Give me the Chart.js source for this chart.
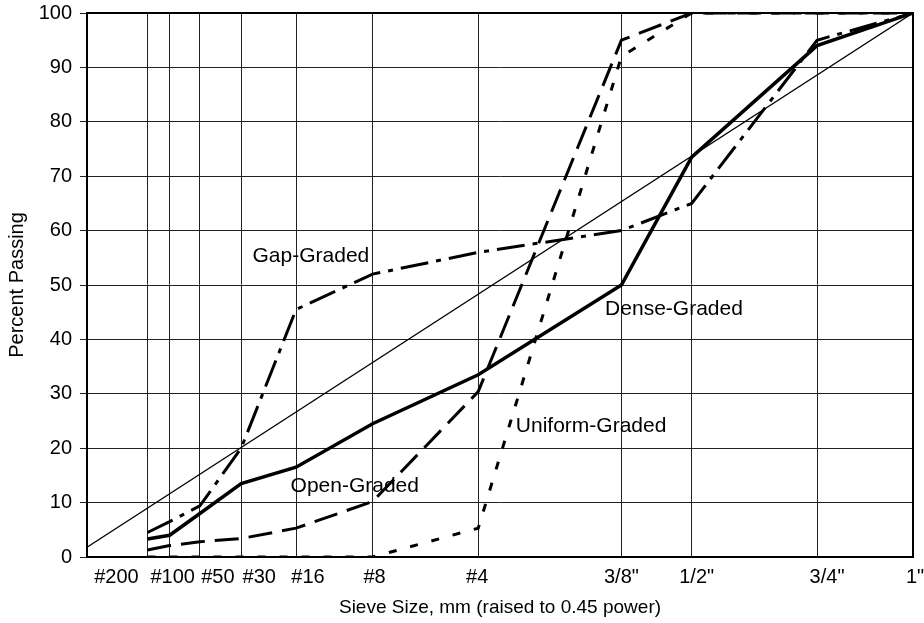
<!DOCTYPE html>
<html>
<head>
<meta charset="utf-8">
<script src="https://cdn.jsdelivr.net/npm/chart.js@4/dist/chart.umd.min.js"></script>
<style>
  html, body { margin: 0; padding: 0; background: #fff; }
  #wrap { width: 924px; height: 623px; }
</style>
</head>
<body>
<div id="wrap"><canvas id="gradationChart" width="924" height="623"></canvas></div>
<script>
// Seulakoot ja niiden nimet
const sieveLabels = ["#200", "#100", "#50", "#30", "#16", "#8", "#4", '3/8"', '1/2"', '3/4"', '1"'];
const sieveSizesMm = [0.075, 0.15, 0.3, 0.6, 1.18, 2.36, 4.75, 9.5, 12.5, 19, 25];

// Läpäisyprosentit (luettu kuvasta)
const denseGraded = [3.3, 4, 8, 13.5, 16.5, 24.5, 33.5, 50, 73.5, 94, 100];
const gapGraded = [4.5, 6.5, 9.4, 20, 45.5, 52, 56, 60, 65, 95, 100];
const openGraded = [1.3, 2.1, 2.8, 3.4, 5.3, 10.2, 30.4, 95, 100, 100, 100];
const uniformGraded = [0, 0, 0, 0, 0, 0, 5.3, 92, 100, 100, 100];

// Maksimitiheyden suora
const maxDensityX = [0, 4.2567];
const maxDensityY = [1.8, 100];

// Seulakoko korotettuna potenssiin 0.45
const sieveX = sieveSizesMm.map((mm) => Math.pow(mm, 0.45));
const toPoints = (values) => values.map((v, i) => ({ x: sieveX[i], y: v }));

// Tekstien sijainti ja siirrot (pikseleinä)
const tickLabelShift = [-31, 3, 18, 18, 12, 2, -1, 0, 5, 10, 2];
const curveNotes = [
  { text: "Gap-Graded", x: 0.853, y: 55.3 },
  { text: "Dense-Graded", x: 2.67, y: 45.5 },
  { text: "Uniform-Graded", x: 2.21, y: 24 },
  { text: "Open-Graded", x: 1.049, y: 13 },
];

const FONT = "'Liberation Sans', Arial, Helvetica, sans-serif";

// Piirtää x-akselin nimet, käyrien nimet ja kehyksen
const extrasPlugin = {
  id: "extras",
  afterDatasetsDraw(chart) {
    const { ctx, chartArea, scales } = chart;
    ctx.save();
    ctx.fillStyle = "#000";
    ctx.textBaseline = "middle";

    ctx.font = `20px ${FONT}`;
    ctx.textAlign = "center";
    sieveLabels.forEach((label, i) => {
      const px = scales.x.getPixelForValue(sieveX[i]) + tickLabelShift[i];
      ctx.fillText(label, px, chartArea.bottom + 20);
    });

    ctx.font = `21px ${FONT}`;
    ctx.textAlign = "left";
    curveNotes.forEach((note) => {
      ctx.fillText(note.text, scales.x.getPixelForValue(note.x), scales.y.getPixelForValue(note.y));
    });

    ctx.strokeStyle = "#000";
    ctx.lineWidth = 2;
    ctx.strokeRect(chartArea.left, chartArea.top, chartArea.right - chartArea.left, chartArea.bottom - chartArea.top);
    ctx.restore();
  },
};

const lineStyle = (label, data, width, dash) => ({
  label,
  data,
  borderColor: "#000",
  borderWidth: width,
  borderDash: dash,
  pointRadius: 0,
  tension: 0,
  fill: false,
});

const chartConfig = {
  type: "line",
  data: {
    datasets: [
      lineStyle("Max Density", maxDensityX.map((x, i) => ({ x, y: maxDensityY[i] })), 1.3, []),
      lineStyle("Open-Graded", toPoints(openGraded), 3, [24, 10]),
      lineStyle("Uniform-Graded", toPoints(uniformGraded), 3, [8, 14]),
      lineStyle("Gap-Graded", toPoints(gapGraded), 3, [28, 8, 5, 8]),
      lineStyle("Dense-Graded", toPoints(denseGraded), 3.5, []),
    ],
  },
  options: {
    responsive: false,
    animation: false,
    events: [],
    layout: { padding: { left: 0, right: 11, top: 13, bottom: 0 } },
    plugins: { legend: { display: false }, tooltip: { enabled: false } },
    scales: {
      x: {
        type: "linear",
        min: 0,
        max: Math.pow(25, 0.45),
        afterBuildTicks: (scale) => { scale.ticks = sieveX.map((v) => ({ value: v })); },
        afterFit: (scale) => { scale.height = 66; },
        ticks: { display: false },
        grid: { color: "#222", lineWidth: 1, drawTicks: false },
        border: { color: "#000", width: 2 },
        title: {
          display: true,
          text: "Sieve Size, mm (raised to 0.45 power)",
          color: "#000",
          font: { family: FONT, size: 19 },
          padding: { top: 0, bottom: 4 },
        },
      },
      y: {
        min: 0,
        max: 100,
        afterFit: (scale) => {
          scale.width = 87;
          scale.paddingTop = 0;
          scale.paddingBottom = 0;
        },
        ticks: { stepSize: 10, color: "#000", padding: 8, font: { family: FONT, size: 20 } },
        grid: { color: "#222", lineWidth: 1, drawTicks: true, tickLength: 7 },
        border: { color: "#000", width: 2 },
        title: {
          display: true,
          text: "Percent Passing",
          color: "#000",
          font: { family: FONT, size: 20 },
          padding: { top: 5, bottom: 0 },
        },
      },
    },
  },
  plugins: [extrasPlugin],
};

new Chart(document.getElementById("gradationChart"), chartConfig);
</script>
</body>
</html>
